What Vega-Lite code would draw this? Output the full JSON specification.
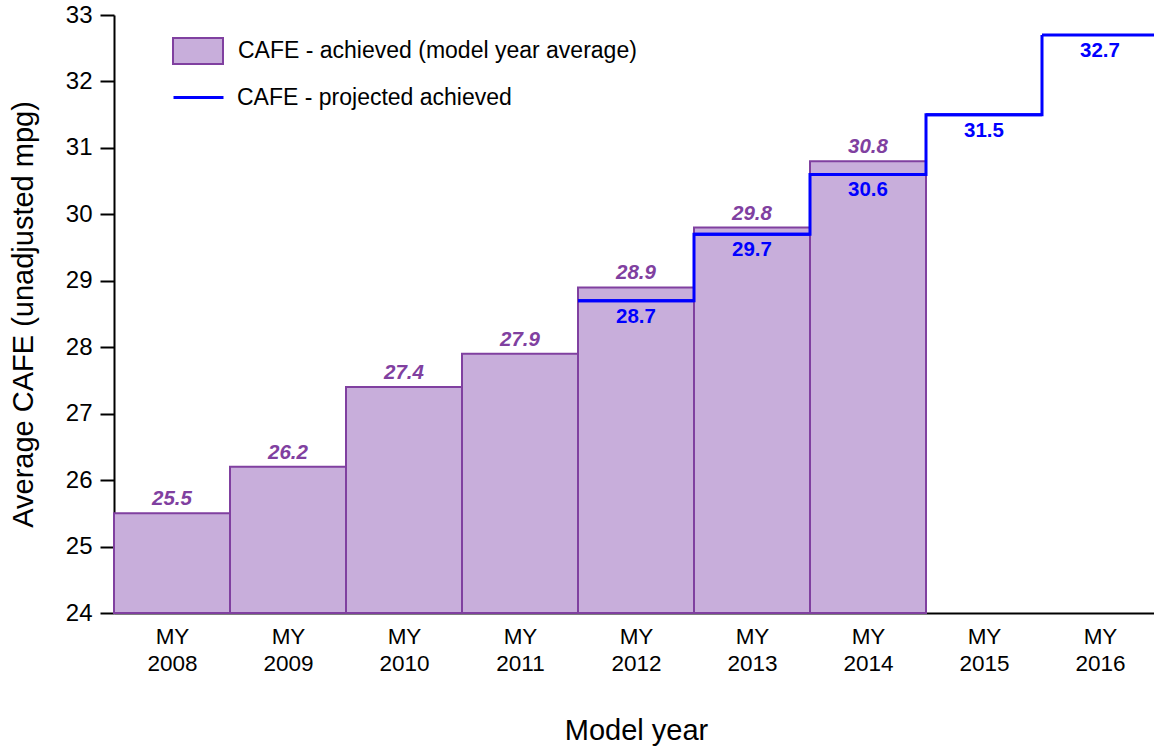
{
  "$schema": "https://vega.github.io/schema/vega-lite/v6.json",
  "width": 1044,
  "height": 598,
  "autosize": {"type": "none"},
  "padding": {"left": 114, "top": 15, "right": 0, "bottom": 133},
  "background": "white",
  "config": {
    "font": "Liberation Sans",
    "view": {"stroke": null},
    "axis": {"grid": false, "domainColor": "black", "domainWidth": 2, "tickColor": "black", "tickWidth": 2, "labelColor": "black", "titleColor": "black", "titleFontWeight": "normal"},
    "legend": {"labelFontSize": 23, "labelColor": "black", "labelLimit": 0, "padding": 0, "rowPadding": 0, "labelOffset": 16, "symbolSize": 2116, "title": null}
  },
  "data": {
    "values": [
      {"year": 2008, "from": 2007.5, "to": 2008.5, "achieved": 25.5, "projected": null},
      {"year": 2009, "from": 2008.5, "to": 2009.5, "achieved": 26.2, "projected": null},
      {"year": 2010, "from": 2009.5, "to": 2010.5, "achieved": 27.4, "projected": null},
      {"year": 2011, "from": 2010.5, "to": 2011.5, "achieved": 27.9, "projected": null},
      {"year": 2012, "from": 2011.5, "to": 2012.5, "achieved": 28.9, "projected": 28.7},
      {"year": 2013, "from": 2012.5, "to": 2013.5, "achieved": 29.8, "projected": 29.7},
      {"year": 2014, "from": 2013.5, "to": 2014.5, "achieved": 30.8, "projected": 30.6},
      {"year": 2015, "from": 2014.5, "to": 2015.5, "achieved": null, "projected": 31.5},
      {"year": 2016, "from": 2015.5, "to": 2016.5, "achieved": null, "projected": 32.7}
    ]
  },
  "layer": [
    {
      "transform": [{"filter": "datum.achieved != null"}],
      "mark": {"type": "bar", "stroke": "#8040a0", "strokeWidth": 2, "opacity": 1},
      "encoding": {
        "x": {
          "field": "from", "type": "quantitative",
          "scale": {"domain": [2007.5, 2016.5], "nice": false, "zero": false},
          "title": "Model year",
          "axis": {
            "values": [2008, 2009, 2010, 2011, 2012, 2013, 2014, 2015, 2016],
            "labelExpr": "['MY', format(datum.value, 'd')]",
            "ticks": false,
            "labelFontSize": 22.5,
            "labelLineHeight": 27,
            "labelPadding": 12,
            "labelFlush": false,
            "labelOverlap": false,
            "titleFontSize": 29,
            "titlePadding": 42
          }
        },
        "x2": {"field": "to"},
        "y": {
          "field": "achieved", "type": "quantitative",
          "scale": {"domain": [24, 33], "nice": false, "zero": false},
          "title": "Average CAFE (unadjusted mpg)",
          "axis": {
            "values": [24, 25, 26, 27, 28, 29, 30, 31, 32, 33],
            "format": "d",
            "tickSize": 14,
            "labelFontSize": 24,
            "labelPadding": 8,
            "titleFontSize": 29,
            "titlePadding": 27
          }
        },
        "y2": {"datum": 24},
        "fill": {
          "datum": "CAFE - achieved (model year average)",
          "scale": {"domain": ["CAFE - achieved (model year average)"], "range": ["#c8aedb"]},
          "legend": {
            "orient": "none",
            "legendX": 60,
            "legendY": 12,
            "symbolType": "M-1.087,-0.565H1.087V0.565H-1.087Z",
            "symbolStrokeColor": "#8040a0",
            "symbolStrokeWidth": 2,
            "symbolOpacity": 1
          }
        }
      }
    },
    {
      "transform": [{"filter": "datum.projected != null"}],
      "mark": {"type": "line", "interpolate": "step-after", "strokeWidth": 3},
      "encoding": {
        "x": {"field": "from", "type": "quantitative"},
        "y": {"field": "projected", "type": "quantitative"},
        "stroke": {
          "datum": "CAFE - projected achieved",
          "scale": {"domain": ["CAFE - projected achieved"], "range": ["#0000ff"]},
          "legend": {
            "orient": "none",
            "legendX": 60,
            "legendY": 58,
            "labelOffset": 14,
            "symbolType": "M-1.087,0H1.087",
            "symbolStrokeWidth": 3,
            "symbolFillColor": "transparent"
          }
        }
      }
    },
    {
      "transform": [{"filter": "datum.projected != null"}],
      "mark": {"type": "rule", "strokeWidth": 3, "color": "#0000ff"},
      "encoding": {
        "x": {"field": "from", "type": "quantitative"},
        "x2": {"field": "to"},
        "y": {"field": "projected", "type": "quantitative"}
      }
    },
    {
      "transform": [{"filter": "datum.achieved != null"}],
      "mark": {"type": "text", "fontSize": 20.5, "fontWeight": "bold", "fontStyle": "italic", "color": "#8040a0", "baseline": "alphabetic", "dy": -8},
      "encoding": {
        "x": {"field": "year", "type": "quantitative"},
        "y": {"field": "achieved", "type": "quantitative"},
        "text": {"field": "achieved", "type": "quantitative", "format": ".1f"}
      }
    },
    {
      "transform": [{"filter": "datum.projected != null"}],
      "mark": {"type": "text", "fontSize": 20.5, "fontWeight": "bold", "color": "#0000ff", "baseline": "alphabetic", "dy": 22},
      "encoding": {
        "x": {"field": "year", "type": "quantitative"},
        "y": {"field": "projected", "type": "quantitative"},
        "text": {"field": "projected", "type": "quantitative", "format": ".1f"}
      }
    }
  ]
}
